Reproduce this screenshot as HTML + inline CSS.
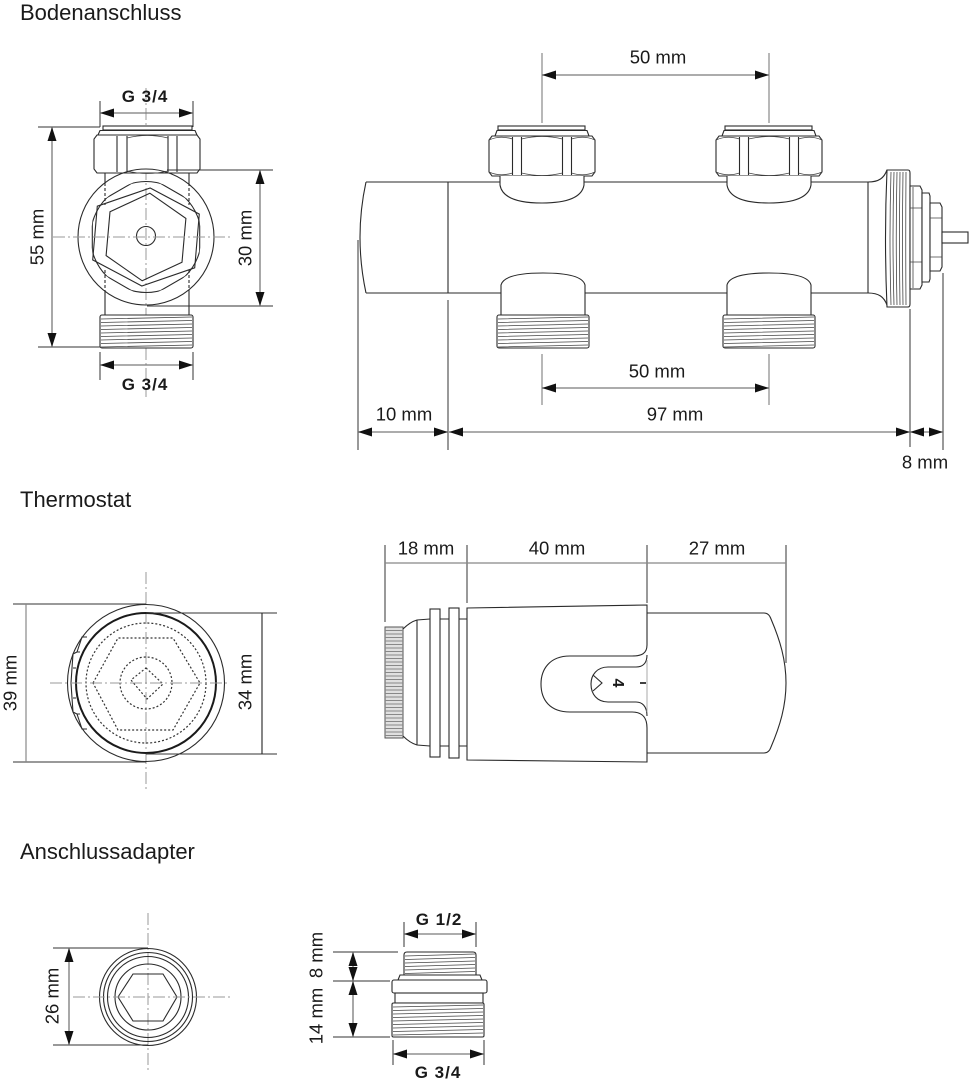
<!DOCTYPE html>
<html><head><meta charset="utf-8"><style>
html,body{margin:0;padding:0;background:#fff;}
svg{display:block;}
text{font-family:"Liberation Sans",sans-serif;fill:#1a1a1a;}
.o{fill:none;stroke:#2a2a2a;stroke-width:1.1}
.ow{fill:#fff;stroke:#2a2a2a;stroke-width:1.1}
.d{stroke:#7a7a7a;stroke-width:1.3;fill:none}
.dk{stroke:#222;stroke-width:1.1;fill:none}
.e{stroke:#333;stroke-width:1;fill:none}
.eg{stroke:#888;stroke-width:1.2;fill:none}
.c{stroke:#9a9a9a;stroke-width:1;stroke-dasharray:12 3 2 3;fill:none}
.t{stroke:#444;stroke-width:0.8;fill:none}
.dot{fill:none;stroke:#333;stroke-width:1.2;stroke-dasharray:2 2}
.dim{font-size:18.5px}
.b{font-size:17px;font-weight:bold;letter-spacing:1px}
.title{font-size:22px}
</style></head><body>
<svg width="972" height="1079" viewBox="0 0 972 1079" xmlns="http://www.w3.org/2000/svg">
<defs>
<marker id="a" viewBox="0 0 14 9" refX="14" refY="4.5" markerUnits="userSpaceOnUse" markerWidth="14" markerHeight="9" orient="auto-start-reverse">
<path d="M0,0 L14,4.5 L0,9 z" fill="#111"/>
</marker>
<clipPath id="cc"><circle cx="146" cy="237" r="55.5"/></clipPath>
<clipPath id="ch"><polygon points="146,175 199.7,206 199.7,268 146,299 92.3,268 92.3,206"/></clipPath>
<g id="nut">
<rect x="-44" y="126" width="87" height="4" class="ow"/>
<path d="M-47,136 L-45,130.5 L45,130.5 L47,136" class="ow"/>
<path d="M-50,136 L50,136 L53,140 L53,172 L50,176 L-50,176 L-53,172 L-53,140 Z" class="ow"/>
<path d="M-29.5,137 L-29.5,175 M-20.5,137 L-20.5,175 M20.5,137 L20.5,175 M29.5,137 L29.5,175" class="o"/>
<path d="M-20.5,139 Q0,134 20.5,139 M-20.5,173 Q0,178 20.5,173 M-53,140 Q-42,135 -29.5,139 M53,140 Q42,135 29.5,139 M-53,172 Q-42,177 -29.5,173 M53,172 Q42,177 29.5,173" class="t"/>
<path d="M-42,176 L-42,185 Q-39,203 0,203 Q39,203 42,185 L42,176" class="ow"/>
</g>
<g id="low">
<path d="M-42,316 L-42,285 Q-39,273 0,273 Q39,273 42,285 L42,316" class="ow"/>
<rect x="-46" y="315" width="92" height="33" rx="2" class="ow"/>
<path d="M-45,319 L45,317 M-45,322.5 L45,320.5 M-45,326 L45,324 M-45,329.5 L45,327.5 M-45,333 L45,331 M-45,336.5 L45,334.5 M-45,340 L45,338 M-45,343.5 L45,341.5 M-45,347 L45,345" class="t"/>
</g>
</defs>

<!-- Titles -->
<text x="20" y="20" class="title">Bodenanschluss</text>
<text x="20" y="507" class="title">Thermostat</text>
<text x="20" y="859" class="title">Anschlussadapter</text>

<!-- ===== Front view (Bodenanschluss) ===== -->
<line x1="146" y1="88" x2="146" y2="397" class="c"/>
<path d="M105,173 L105,183 M189,173 L189,183 M105,291 L105,315 M189,291 L189,315" class="o"/>
<path d="M105,183 L105,205 M189,183 L189,205 M105,270 L105,291 M189,270 L189,291" class="o" stroke-dasharray="3 2"/>
<rect x="103" y="126" width="89" height="4" class="ow"/>
<path d="M98,135 L100,130.5 L195,130.5 L197,135" class="ow"/>
<path d="M97,135 L197,135 L200,139 L200,169 L197,173 L97,173 L94,169 L94,139 Z" class="ow"/>
<path d="M117,136 L117,172 M127,136 L127,172 M168,136 L168,172 M177,136 L177,172" class="o"/>
<path d="M127,138 Q147,133 168,138 M127,171 Q147,176 168,171" class="t"/>
<circle cx="146" cy="237" r="68" class="o"/>
<polygon points="146,175 199.7,206 199.7,268 146,299 92.3,268 92.3,206" class="o" clip-path="url(#cc)"/>
<circle cx="146" cy="237" r="55.5" class="o" clip-path="url(#ch)"/>
<polygon points="150.2,188 199.3,214.1 194.7,267.8 141.8,286 92.7,259.9 97.3,206.2" class="o"/>
<polygon points="149.8,193.2 185.9,218.4 182,262.2 142.2,280.8 106.1,255.6 110,211.8" class="o"/>
<circle cx="146" cy="236" r="9.5" class="o"/>
<line x1="53" y1="237" x2="230" y2="237" class="c"/>
<rect x="100" y="315" width="93" height="33" rx="2" class="ow"/>
<path d="M101,319 L192,317 M101,322.5 L192,320.5 M101,326 L192,324 M101,329.5 L192,327.5 M101,333 L192,331 M101,336.5 L192,334.5 M101,340 L192,338 M101,343.5 L192,341.5 M101,347 L192,345" class="t"/>
<path d="M100,101 L100,127 M193,101 L193,127" class="e"/>
<line x1="100" y1="113" x2="193" y2="113" class="d" marker-start="url(#a)" marker-end="url(#a)"/>
<text x="145" y="102" class="b" text-anchor="middle">G 3/4</text>
<path d="M38,127 L100,127 M38,347 L100,347" class="e"/>
<line x1="52" y1="127" x2="52" y2="347" class="d" marker-start="url(#a)" marker-end="url(#a)"/>
<text transform="translate(43.5,237) rotate(-90)" class="dim" text-anchor="middle">55 mm</text>
<path d="M167,170 L273,170 M147,306 L273,306" class="e"/>
<line x1="260" y1="170" x2="260" y2="306" class="d" marker-start="url(#a)" marker-end="url(#a)"/>
<text transform="translate(251.5,238) rotate(-90)" class="dim" text-anchor="middle">30 mm</text>
<path d="M100,352 L100,380 M193,352 L193,380" class="e"/>
<line x1="100" y1="365" x2="193" y2="365" class="d" marker-start="url(#a)" marker-end="url(#a)"/>
<text x="145" y="390" class="b" text-anchor="middle">G 3/4</text>

<!-- ===== Side view ===== -->
<path d="M366,182 L869,182 M366,293 L869,293" class="o"/>
<path d="M366,182 Q354,237 366,293" class="o"/>
<line x1="448" y1="182" x2="448" y2="293" class="o"/>
<line x1="868" y1="182" x2="868" y2="293" class="o"/>
<path d="M868,182 C879,182 884,178 887,170 M868,293 C879,293 884,297 887,305" class="o"/>
<use href="#nut" transform="translate(542,0)"/>
<use href="#nut" transform="translate(769,0)"/>
<use href="#low" transform="translate(543,0)"/>
<use href="#low" transform="translate(769,0)"/>
<path d="M887,170 L908,170 Q910,170 910,173 L910,304 Q910,307 908,307 L887,307 Q884,238 887,170 Z" class="ow"/>
<path d="M891,172 Q889,238 891,305 M894,172 Q892,238 894,305 M897,172 Q895.5,238 897,305 M900,172 Q899,238 900,305 M903,172 Q902,238 903,305 M906,172 Q905.5,238 906,305" class="t"/>
<path d="M910,186 L920,186 L922,190 L922,285 L920,289 L910,289 Z" class="ow"/>
<path d="M913,187 L913,288 M910,208 L922,208 M910,262 L922,262" class="t"/>
<path d="M922,193 L929,193 L930,196 L930,279 L929,282 L922,282 Z" class="ow"/>
<path d="M930,203 L940,203 L942,207 L942,267 L940,271 L930,271 Z" class="ow"/>
<path d="M930,218 L942,218 M930,257 L942,257" class="t"/>
<rect x="942" y="232" width="26" height="11" class="ow"/>
<path d="M542,53 L542,123 M769,53 L769,123" class="eg"/>
<line x1="542" y1="75" x2="769" y2="75" class="d" marker-start="url(#a)" marker-end="url(#a)"/>
<text x="658" y="63.5" class="dim" text-anchor="middle">50 mm</text>
<path d="M542,354 L542,405 M769,354 L769,405" class="eg"/>
<line x1="542" y1="388" x2="769" y2="388" class="d" marker-start="url(#a)" marker-end="url(#a)"/>
<text x="657" y="377.5" class="dim" text-anchor="middle">50 mm</text>
<path d="M358,240 L358,450 M448,300 L448,450 M910,309 L910,447 M943,273 L943,450" class="e"/>
<line x1="358" y1="432" x2="448" y2="432" class="d" marker-start="url(#a)" marker-end="url(#a)"/>
<line x1="449" y1="432" x2="910" y2="432" class="d" marker-start="url(#a)" marker-end="url(#a)"/>
<line x1="910" y1="432" x2="943" y2="432" class="d" marker-start="url(#a)" marker-end="url(#a)"/>
<text x="404" y="420.5" class="dim" text-anchor="middle">10 mm</text>
<text x="675" y="420.5" class="dim" text-anchor="middle">97 mm</text>
<text x="925" y="468.5" class="dim" text-anchor="middle">8 mm</text>

<!-- ===== Thermostat front ===== -->
<line x1="146" y1="572" x2="146" y2="790" class="c"/>
<circle cx="146" cy="683" r="78.5" class="o"/>
<circle cx="146" cy="683" r="70" fill="none" stroke="#1a1a1a" stroke-width="2"/>
<path d="M87,637 L82,637 L77,652 L73,654 L72,668 L71,683 L72,698 L73,712 L77,714 L82,729 L87,729 M77,652 L80,652 M73,668 L76,668 M73,698 L76,698 M77,714 L80,714" class="o"/>
<circle cx="146" cy="683" r="60" class="dot"/>
<polygon points="93,683 118,638 173,638 200,683 173,730 118,730" class="dot"/>
<circle cx="146" cy="683" r="26" class="dot"/>
<polygon points="146,668 163,684 147,699 131,680" class="dot" stroke-linejoin="round"/>
<line x1="50" y1="683" x2="227" y2="683" class="c"/>
<path d="M13,604 L146,604 M13,762 L146,762" class="e"/>
<line x1="26" y1="604" x2="26" y2="762" class="eg" stroke-width="1.5"/>
<text transform="translate(16.5,683) rotate(-90)" class="dim" text-anchor="middle">39 mm</text>
<path d="M146,613 L277,613 M146,754 L277,754" class="e"/>
<line x1="262" y1="613" x2="262" y2="754" class="dk"/>
<text transform="translate(251.5,682) rotate(-90)" class="dim" text-anchor="middle">34 mm</text>

<!-- ===== Thermostat side ===== -->
<path d="M385,545 L385,622 M467,545 L467,603 M647,545 L647,603 M786,545 L786,663" class="e"/>
<line x1="385" y1="563" x2="786" y2="563" class="eg"/>
<text x="426" y="554.5" class="dim" text-anchor="middle">18 mm</text>
<text x="557" y="554.5" class="dim" text-anchor="middle">40 mm</text>
<text x="717" y="554.5" class="dim" text-anchor="middle">27 mm</text>
<rect x="385" y="627" width="18" height="111" fill="#e0e0e0" stroke="#555" stroke-width="1"/>
<path d="M385,630.5 H403 M385,634 H403 M385,637.5 H403 M385,641 H403 M385,644.5 H403 M385,648 H403 M385,651.5 H403 M385,655 H403 M385,658.5 H403 M385,662 H403 M385,665.5 H403 M385,669 H403 M385,672.5 H403 M385,676 H403 M385,679.5 H403 M385,683 H403 M385,686.5 H403 M385,690 H403 M385,693.5 H403 M385,697 H403 M385,700.5 H403 M385,704 H403 M385,707.5 H403 M385,711 H403 M385,714.5 H403 M385,718 H403 M385,721.5 H403 M385,725 H403 M385,728.5 H403 M385,732 H403 M385,735.5 H403" stroke="#888" stroke-width="0.9"/>
<path d="M403,629 Q410,622 417,620 L430,619 M403,736 Q410,743 417,745 L430,746 M417,620 L417,745" class="o"/>
<rect x="430" y="609" width="10" height="148" class="ow"/>
<path d="M440,619 L449,619 M440,746 L449,746 M459,619 L467,619 M459,746 L467,746" class="o"/>
<rect x="449" y="608" width="10" height="150" class="ow"/>
<path d="M467,608 L647,605 L647,645 C647,654 641,656 632,656 L570,656 C549,656 541,670 541,684 C541,700 550,712 570,712 L632,712 C641,712 647,716 647,728 L647,762 L467,760 Z" class="ow"/>
<path d="M647,655 C647,664 642,667 636,667 L608,667 C597,667 591,675 591,684 C591,694 597,702 608,702 L636,702 C642,702 647,706 647,716" class="o"/>
<line x1="647" y1="660" x2="647" y2="712" stroke="#aaa" stroke-width="1"/>
<path d="M593,675 L602,683 L593,691" class="o"/>
<text transform="translate(613,683) rotate(90)" font-size="16" font-weight="bold" text-anchor="middle">4</text>
<line x1="640" y1="683" x2="646" y2="683" stroke="#111" stroke-width="1.6"/>
<path d="M647,613 L764,613 Q769,613 771,619 C780,640 786,660 786,683 C786,706 780,726 771,747 Q769,753 764,753 L647,753" class="o"/>

<!-- ===== Adapter front ===== -->
<line x1="148" y1="913" x2="148" y2="1073" class="c"/>
<circle cx="148" cy="997" r="48.5" class="o"/>
<circle cx="148" cy="997" r="44.5" class="o"/>
<circle cx="148" cy="997" r="40.5" class="o"/>
<circle cx="148" cy="997" r="33" class="o"/>
<polygon points="118,997 133,974 163,974 177,997 163,1021 133,1021" class="o"/>
<line x1="73" y1="997" x2="230" y2="997" class="c"/>
<path d="M53,948 L148,948 M53,1045 L148,1045" class="e"/>
<line x1="69" y1="948" x2="69" y2="1045" class="d" marker-start="url(#a)" marker-end="url(#a)"/>
<text transform="translate(58.5,996) rotate(-90)" class="dim" text-anchor="middle">26 mm</text>

<!-- ===== Adapter side ===== -->
<path d="M404,922 L404,947 M476,922 L476,947" class="e"/>
<line x1="404" y1="934" x2="476" y2="934" class="d" marker-start="url(#a)" marker-end="url(#a)"/>
<text x="439" y="925" class="b" text-anchor="middle">G 1/2</text>
<path d="M404,975 L404,955 Q404,952 407,952 L473,952 Q476,952 476,955 L476,975 Z" class="ow"/>
<path d="M405,956 L475,954 M405,959.5 L475,957.5 M405,963 L475,961 M405,966.5 L475,964.5 M405,970 L475,968 M405,973.5 L475,971.5" class="t"/>
<path d="M398,980 L400,975 L480,975 L482,980" class="ow"/>
<rect x="392" y="980" width="95" height="13" rx="2" class="ow"/>
<rect x="395" y="993" width="88" height="10" class="ow"/>
<rect x="392" y="1003" width="92" height="34" rx="1.5" class="ow"/>
<path d="M393,1007 L483,1005 M393,1010.5 L483,1008.5 M393,1014 L483,1012 M393,1017.5 L483,1015.5 M393,1021 L483,1019 M393,1024.5 L483,1022.5 M393,1028 L483,1026 M393,1031.5 L483,1029.5 M393,1035 L483,1033" class="t"/>
<path d="M333,952 L398,952 M333,981 L390,981 M333,1037 L390,1037" class="e"/>
<line x1="353" y1="952" x2="353" y2="981" class="d" marker-start="url(#a)" marker-end="url(#a)"/>
<line x1="353" y1="981" x2="353" y2="1037" class="d" marker-start="url(#a)" marker-end="url(#a)"/>
<text transform="translate(322.5,955) rotate(-90)" class="dim" text-anchor="middle">8 mm</text>
<text transform="translate(322.5,1016) rotate(-90)" class="dim" text-anchor="middle">14 mm</text>
<path d="M393,1040 L393,1065 M484,1040 L484,1065" class="e"/>
<line x1="393" y1="1054" x2="484" y2="1054" class="d" marker-start="url(#a)" marker-end="url(#a)"/>
<text x="438" y="1078" class="b" text-anchor="middle">G 3/4</text>
</svg>
</body></html>
